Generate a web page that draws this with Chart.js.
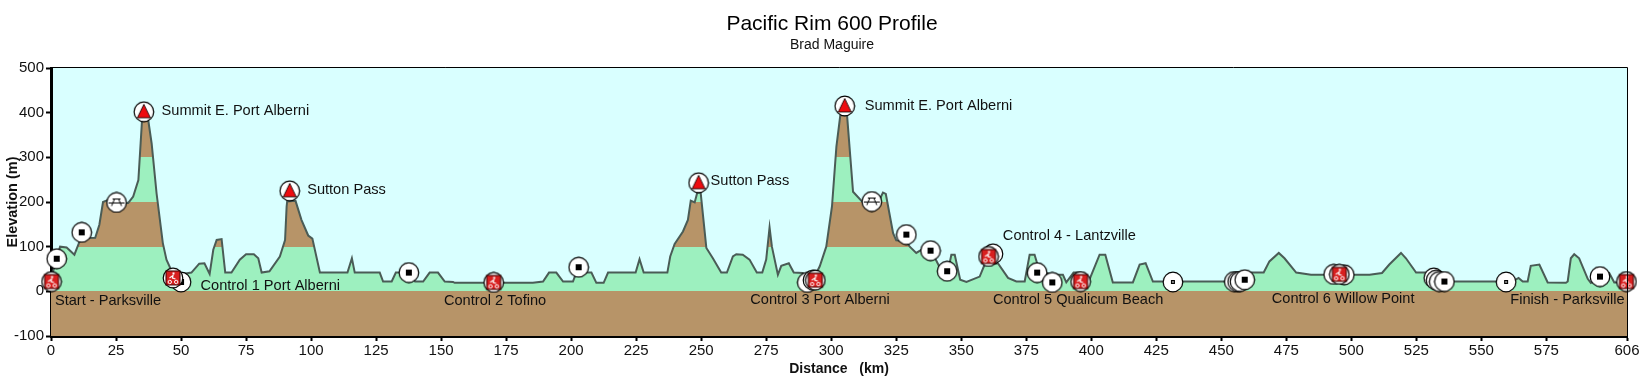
<!DOCTYPE html>
<html>
<head>
<meta charset="utf-8">
<title>Pacific Rim 600 Profile</title>
<script src="https://cdn.jsdelivr.net/npm/chart.js@4"></script>
<style>
    body { margin: 0; background: #fff; }
    canvas { display: block; }
</style>
</head>
<body>
<canvas id="profile" width="1639" height="381"></canvas>
<script>
// Course profile
const distanceKm = [0, 1.5, 3.5, 6, 9, 10.8, 12, 17, 18.6, 20, 21.6, 25, 29.7, 31.6, 33.6, 35, 37.4, 38.7, 40.6, 43, 44.4, 46.4, 50.6, 54, 57, 59, 61, 62.4, 63.7, 65.6, 67, 69.4, 72.6, 75, 78, 79.7, 81, 84, 88, 90, 90.6, 90.8, 94, 96.3, 98.9, 100.5, 103.4, 114, 115.7, 116.8, 126.4, 127.7, 131, 132.6, 138, 140, 143.1, 145.6, 148.8, 151.4, 154.6, 155.2, 185.3, 189.2, 191.5, 194.3, 196.9, 200.7, 202, 207.8, 209.7, 212.5, 214.2, 224.8, 226.3, 227.9, 237, 238.1, 239.8, 243, 244.9, 246, 247.5, 248.5, 249.8, 252, 254.5, 257.7, 259.9, 262.2, 263.5, 266, 268.6, 271.4, 273.5, 275, 276.3, 277.2, 279.5, 280.8, 283.7, 285.6, 289, 293, 295.6, 298.1, 300.3, 302, 303.5, 306.1, 308.4, 312.2, 318.6, 319.9, 321, 323.8, 325, 328.9, 330.2, 332.7, 334.7, 338.5, 341.5, 344.9, 346.2, 347.5, 349.6, 352, 357.1, 359, 364.1, 368, 371.2, 374.4, 376.3, 378.2, 380.1, 385.3, 389.1, 390.4, 393.2, 396, 399.3, 403.2, 405.4, 408.3, 416, 418.6, 420.9, 423.7, 449.3, 451.9, 461.5, 466.3, 468.5, 472.1, 474.3, 478.8, 484.5, 507, 511.8, 514.6, 519.1, 521, 524.9, 530, 533.8, 562, 564.3, 565.9, 567.8, 569, 572.3, 575.5, 582.5, 583.2, 584.4, 585.7, 587.6, 590.9, 592.1, 599.2, 601.1, 606];
const elevationM = [20, 63, 100, 98, 82, 109, 119, 120, 149, 200, 204, 197, 198, 212, 249, 383, 383, 331, 219, 108, 71, 45, 39, 42, 62, 63, 39, 93, 115, 117, 42, 42, 71, 83, 83, 74, 42, 45, 78, 115, 190, 201, 203, 160, 125, 118, 42, 42, 74, 42, 42, 22, 22, 42, 42, 22, 22, 42, 42, 22, 21, 19, 19, 22, 42, 42, 22, 22, 42, 42, 19, 19, 42, 42, 72, 42, 42, 78, 106, 134, 160, 203, 199, 221, 221, 97, 74, 42, 42, 78, 83, 82, 71, 42, 42, 71, 143, 100, 37, 57, 63, 42, 41, 26, 56, 100, 190, 324, 394, 394, 223, 199, 205, 221, 218, 130, 114, 112, 100, 86, 93, 91, 56, 45, 82, 82, 26, 21, 33, 60, 63, 30, 22, 22, 82, 82, 45, 37, 37, 20, 42, 42, 26, 82, 82, 20, 20, 60, 63, 22, 22, 22, 42, 42, 67, 86, 74, 42, 37, 37, 41, 60, 86, 74, 42, 42, 22, 22, 30, 22, 22, 57, 60, 20, 19, 22, 74, 83, 74, 28, 19, 41, 20, 20];

// Waypoints, by kind of marker
const infoKm = [2.2, 11.8, 50, 137.6, 202.9, 290.8, 293, 328.9, 338.2, 344.6, 362.2, 379.2, 385, 455, 456.3, 457.2, 459, 493.2, 497.3, 531.7, 532.6, 533.8, 535.8, 595.6];
const infoElev = [73, 132, 21, 42, 54, 20, 25, 127, 91, 45, 84, 42, 20, 22, 22, 22, 26, 38, 37, 30, 25, 22, 22, 33];
const minorKm = [431.4, 559.5];
const minorElev = [21, 21];
const picnicKm = [25.2, 315.6];
const picnicElev = [199, 201];
const controlKm = [0.2, 46.9, 170.2, 293.9, 360.5, 395.9, 495.4, 605.8];
const controlElev = [22, 30, 20, 25, 78, 22, 38, 22];
const summitKm = [35.7, 91.8, 249, 305.2];
const summitElev = [402, 225, 243, 415];

// Place names, at the km / elevation where the text starts
const placeNames = ['Summit E. Port Alberni', 'Sutton Pass', 'Start - Parksville', 'Control 1 Port Alberni', 'Control 2 Tofino', 'Sutton Pass', 'Control 3 Port Alberni', 'Summit E. Port Alberni', 'Control 4 - Lantzville', 'Control 5 Qualicum Beach', 'Control 6 Willow Point', 'Finish - Parksville'];
const placeKm = [42.5, 98.5, 1.5, 57.5, 151.1, 253.6, 268.9, 312.9, 366, 362.2, 469.4, 561.1];
const placeElev = [403, 227, -21, 13, -22, 247, -19, 415, 125, -20, -16, -19];

const distanceTicks = [0, 25, 50, 75, 100, 125, 150, 175, 200, 225, 250, 275, 300, 325, 350, 375, 400, 425, 450, 475, 500, 525, 550, 575, 606];
const bandEdges = [-100, 0, 100, 200, 300, 400, 500];
const bandColors = ['#b79468', '#9df0bf', '#b79468', '#9df0bf', '#b79468', '#9df0bf'];

const tickFont = { family: '"Liberation Sans Narrow", "Liberation Sans", Arial', size: 15 };

function xy(xs, ys) {
    return xs.map((x, i) => ({ x: x, y: ys[i] }));
}

// White disc every waypoint marker sits on
function markerBase() {
    const c = document.createElement('canvas');
    c.width = 22;
    c.height = 22;
    const g = c.getContext('2d');
    g.beginPath();
    g.arc(11, 11, 9.8, 0, Math.PI * 2);
    g.fillStyle = '#fff';
    g.fill();
    g.lineWidth = 1.2;
    g.strokeStyle = '#000';
    g.stroke();
    return c;
}

function squareIcon(size) {
    const c = markerBase();
    const g = c.getContext('2d');
    g.fillStyle = '#000';
    g.fillRect(11 - size / 2, 11 - size / 2, size, size);
    return c;
}

function minorIcon() {
    const c = markerBase();
    const g = c.getContext('2d');
    g.fillStyle = '#000';
    g.fillRect(9, 9, 4, 4);
    g.fillStyle = '#fff';
    g.fillRect(10.3, 10.3, 1.4, 1.4);
    return c;
}

function picnicIcon() {
    const c = markerBase();
    const g = c.getContext('2d');
    g.strokeStyle = '#000';
    g.lineWidth = 1;
    g.beginPath();
    g.moveTo(7, 7.5); g.lineTo(15, 7.5);
    g.moveTo(3, 11.5); g.lineTo(19, 11.5);
    g.moveTo(9, 7.5); g.lineTo(6, 14.5);
    g.moveTo(13, 7.5); g.lineTo(16, 14.5);
    g.stroke();
    return c;
}

function controlIcon() {
    const c = markerBase();
    const g = c.getContext('2d');
    g.fillStyle = '#d81f1f';
    g.fillRect(4, 4, 14, 14);
    g.strokeStyle = '#300';
    g.lineWidth = 1;
    g.strokeRect(4, 4, 14, 14);
    g.strokeStyle = '#fff';
    g.beginPath();
    g.arc(7.8, 15, 1.7, 0, Math.PI * 2);
    g.moveTo(15.9, 15);
    g.arc(14.2, 15, 1.7, 0, Math.PI * 2);
    g.stroke();
    g.lineWidth = 1.2;
    g.beginPath();
    g.moveTo(7.5, 11); g.lineTo(11, 8.5); g.lineTo(10.5, 11); g.lineTo(13.5, 12);
    g.stroke();
    g.fillStyle = '#fff';
    g.fillRect(10.5, 5.5, 2, 2);
    return c;
}

function summitIcon() {
    const c = markerBase();
    const g = c.getContext('2d');
    g.beginPath();
    g.moveTo(11, 3.5);
    g.lineTo(17.5, 17);
    g.lineTo(4.5, 17);
    g.closePath();
    g.fillStyle = '#ee0c10';
    g.fill();
    g.strokeStyle = '#000';
    g.lineWidth = 0.8;
    g.stroke();
    return c;
}

function markerSet(xs, ys, icon, order) {
    return {
        data: xy(xs, ys),
        showLine: false,
        pointStyle: icon,
        pointRadius: 11,
        clip: false,
        order: order
    };
}

// Elevation bands: hard colour stops taken from the y scale
function bandFill(context) {
    const chart = context.chart;
    const area = chart.chartArea;
    if (!area) {
        return bandColors[1];
    }
    const y = chart.scales.y;
    const gradient = chart.ctx.createLinearGradient(0, area.bottom, 0, area.top);
    const span = area.bottom - area.top;
    bandColors.forEach((color, i) => {
        gradient.addColorStop((area.bottom - y.getPixelForValue(bandEdges[i])) / span, color);
        gradient.addColorStop((area.bottom - y.getPixelForValue(bandEdges[i + 1])) / span, color);
    });
    return gradient;
}

const plotDecor = {
    id: 'plotDecor',
    afterLayout(chart) {
        // title is centred off the page middle, so the left padding stays;
        // the y axis still needs the room for its labels
        chart.scales.y.left = 0;
    },
    beforeDraw(chart) {
        const a = chart.chartArea;
        chart.ctx.fillStyle = '#d9ffff';
        chart.ctx.fillRect(a.left, a.top, a.right - a.left, a.bottom - a.top);
    },
    afterDraw(chart) {
        const ctx = chart.ctx;
        const a = chart.chartArea;
        ctx.save();
        ctx.strokeStyle = '#000';
        ctx.lineWidth = 1;
        ctx.beginPath();
        ctx.moveTo(a.left, a.top - 0.5);
        ctx.lineTo(a.right + 0.5, a.top - 0.5);
        ctx.lineTo(a.right + 0.5, a.bottom);
        ctx.stroke();
        // place names go over the markers
        ctx.font = '14.6px "Liberation Sans", Arial';
        ctx.fillStyle = '#111';
        ctx.textBaseline = 'middle';
        placeNames.forEach((name, i) => {
            ctx.fillText(name, chart.scales.x.getPixelForValue(placeKm[i]), chart.scales.y.getPixelForValue(placeElev[i]));
        });
        ctx.restore();
    }
};

new Chart(document.getElementById('profile'), {
    type: 'line',
    data: {
        datasets: [
            {
                data: xy(distanceKm, elevationM),
                borderColor: '#4a5c56',
                borderWidth: 2,
                backgroundColor: bandFill,
                fill: 'start',
                pointRadius: 0,
                tension: 0,
                order: 10
            },
            markerSet(infoKm, infoElev, squareIcon(6), 5),
            markerSet(minorKm, minorElev, minorIcon(), 4),
            markerSet(picnicKm, picnicElev, picnicIcon(), 3),
            markerSet(controlKm, controlElev, controlIcon(), 2),
            markerSet(summitKm, summitElev, summitIcon(), 1)
        ]
    },
    options: {
        responsive: false,
        animation: false,
        layout: { padding: { left: 25 } },
        plugins: {
            legend: { display: false },
            tooltip: { enabled: false },
            title: {
                display: true,
                text: 'Pacific Rim 600 Profile',
                color: '#000',
                font: { family: '"Liberation Sans", Arial', size: 21, weight: 'normal' },
                padding: { top: 12, bottom: 0 }
            },
            subtitle: {
                display: true,
                text: 'Brad Maguire',
                color: '#111',
                font: { family: '"Liberation Sans", Arial', size: 14, weight: 'normal' },
                padding: { top: 0, bottom: 14 }
            }
        },
        scales: {
            x: {
                type: 'linear',
                min: 0,
                max: 606,
                border: { color: '#000', width: 3 },
                grid: { drawOnChartArea: false, color: '#000', tickLength: 5, tickWidth: 2 },
                afterBuildTicks(scale) {
                    scale.ticks = distanceTicks.map(v => ({ value: v }));
                },
                afterFit(scale) {
                    scale.height = 45;
                    scale.paddingRight = 11;
                },
                ticks: { color: '#111', font: tickFont, maxRotation: 0, autoSkip: false, padding: 1 },
                title: {
                    display: true,
                    text: 'Distance   (km)',
                    color: '#111',
                    font: { family: '"Liberation Sans", Arial', size: 14, weight: 'bold' },
                    padding: { top: 0, bottom: 3 }
                }
            },
            y: {
                min: -100,
                max: 500,
                border: { color: '#000', width: 3 },
                grid: { drawOnChartArea: false, color: '#000', tickLength: 5, tickWidth: 2 },
                afterFit(scale) {
                    scale.width = 26;
                },
                ticks: { color: '#111', font: tickFont, stepSize: 100, padding: 2 },
                title: {
                    display: true,
                    text: 'Elevation (m)',
                    color: '#111',
                    font: { family: '"Liberation Sans", Arial', size: 14.5, weight: 'bold' },
                    padding: { top: 4, bottom: 0 }
                }
            }
        }
    },
    plugins: [plotDecor]
});
</script>
</body>
</html>
